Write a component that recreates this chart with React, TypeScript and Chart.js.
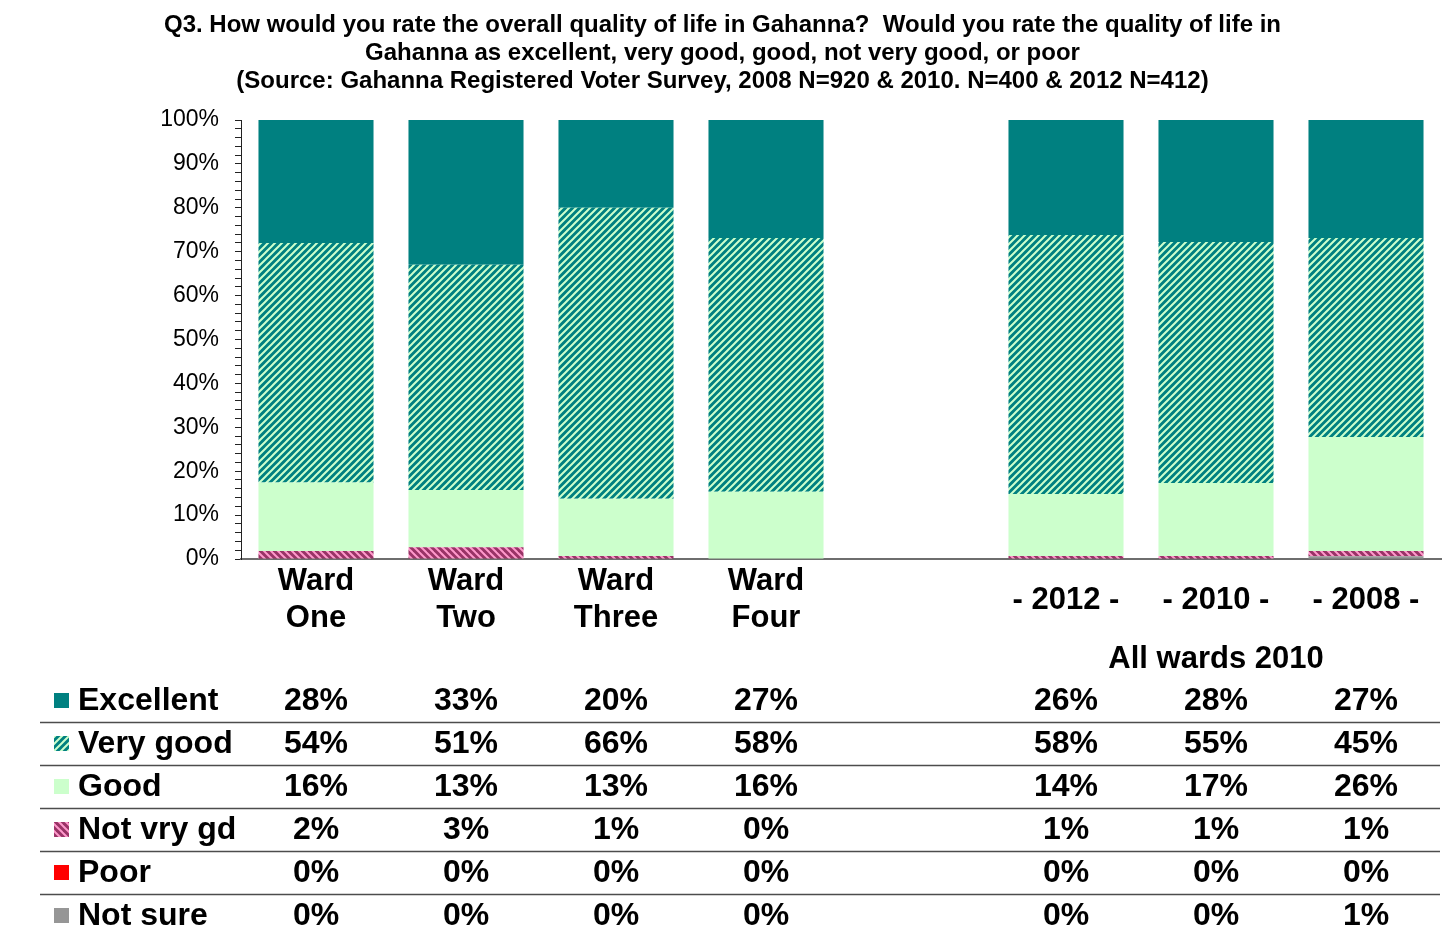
import React, { useEffect, useRef } from "react";
import { Chart, registerables } from "chart.js";
Chart.register(...registerables);

const titleLines = [
  "Q3. How would you rate the overall quality of life in Gahanna?  Would you rate the quality of life in",
  "Gahanna as excellent, very good, good, not very good, or poor",
  "(Source: Gahanna Registered Voter Survey, 2008 N=920 & 2010. N=400 & 2012 N=412)",
];

const categories = ["Ward One", "Ward Two", "Ward Three", "Ward Four", "", "- 2012 -", "- 2010 -", "- 2008 -"];
const groupLabel = "All wards 2010";

// bar heights (percent)
const excellent = [28.0, 33.0, 20.0, 26.9, null, 26.2, 27.8, 26.9];
const veryGood = [54.6, 51.3, 66.3, 57.8, null, 59.0, 54.9, 45.3];
const good = [15.6, 13.0, 13.0, 15.3, null, 14.1, 16.6, 26.0];
const notVeryGood = [1.8, 2.7, 0.7, 0, null, 0.7, 0.7, 1.2];
const poor = [0, 0, 0, 0, null, 0, 0, 0];
const notSure = [0, 0, 0, 0, null, 0, 0, 0.6];

// values printed in the data table
const tblExcellent = [28, 33, 20, 27, null, 26, 28, 27];
const tblVeryGood = [54, 51, 66, 58, null, 58, 55, 45];
const tblGood = [16, 13, 13, 16, null, 14, 17, 26];
const tblNotVeryGood = [2, 3, 1, 0, null, 1, 1, 1];
const tblPoor = [0, 0, 0, 0, null, 0, 0, 0];
const tblNotSure = [0, 0, 0, 0, null, 0, 0, 1];

const seriesNames = ["Excellent", "Very good", "Good", "Not vry gd", "Poor", "Not sure"];

const FONT = "'Liberation Sans', Arial, Helvetica, sans-serif";

function stripePattern(bg: string, fg: string, dir: "/" | "\\", s: number, lw: number) {
  const c = document.createElement("canvas");
  c.width = s;
  c.height = s;
  const g = c.getContext("2d")!;
  g.fillStyle = bg;
  g.fillRect(0, 0, s, s);
  g.strokeStyle = fg;
  g.lineWidth = lw;
  g.lineCap = "square";
  for (let k = -1; k <= 2; k++) {
    g.beginPath();
    if (dir === "/") {
      g.moveTo(-2, k * s + 2);
      g.lineTo(k * s + 2, -2);
    } else {
      g.moveTo(-2, k * s - 2);
      g.lineTo(s + 2, k * s + s + 2);
    }
    g.stroke();
  }
  return g.createPattern(c, "repeat")!;
}

export default function App() {
  const ref = useRef<HTMLCanvasElement | null>(null);

  useEffect(() => {
    document.body.style.margin = "0";
    const canvas = ref.current!;
    const vgPat = stripePattern("#008080", "#CCFFCC", "/", 7, 2);
    const nvgPat = stripePattern("#993366", "#FF99CC", "\\", 7, 2);

    const fills: any[] = ["#008080", vgPat, "#CCFFCC", nvgPat, "#FF0000", "#969696"];
    const barData = [excellent, veryGood, good, notVeryGood, poor, notSure];
    const tblData = [tblExcellent, tblVeryGood, tblGood, tblNotVeryGood, tblPoor, tblNotSure];

    const datasets = seriesNames
      .map((name, i) => ({
        label: name,
        data: barData[i] as any,
        backgroundColor: fills[i],
        borderWidth: 0,
        barPercentage: 0.767,
        categoryPercentage: 1,
      }))
      .reverse();

    const overlay = {
      id: "overlay",
      afterDraw(chart: any) {
        const ctx = chart.ctx as CanvasRenderingContext2D;
        const xs = chart.scales.x;
        ctx.save();
        ctx.fillStyle = "#000";
        ctx.textBaseline = "middle";
        // title
        ctx.font = `bold 24px ${FONT}`;
        ctx.textAlign = "center";
        titleLines.forEach((t, i) => ctx.fillText(t, 722.5, 25 + i * 28));

        // category labels
        ctx.font = `bold 31px ${FONT}`;
        categories.forEach((c, i) => {
          if (!c) return;
          const x = xs.getPixelForValue(i);
          if (c.startsWith("Ward")) {
            const parts = c.split(" ");
            ctx.fillText(parts[0], x, 581);
            ctx.fillText(parts[1], x, 618);
          } else {
            ctx.fillText(c, x, 600);
          }
        });
        ctx.fillText(groupLabel, xs.getPixelForValue(6), 659);

        // table
        ctx.font = `bold 32px ${FONT}`;
        const rowY = [701, 744, 787, 830, 873, 916];
        ctx.strokeStyle = "#4d4d4d";
        ctx.lineWidth = 1.5;
        for (let r = 0; r < 5; r++) {
          const y = rowY[r] + 21.5;
          ctx.beginPath();
          ctx.moveTo(40, y);
          ctx.lineTo(1440, y);
          ctx.stroke();
        }
        seriesNames.forEach((name, r) => {
          const y = rowY[r];
          ctx.fillStyle = fills[r];
          ctx.fillRect(54, y - 8, 15, 15);
          ctx.fillStyle = "#000";
          ctx.textAlign = "left";
          ctx.fillText(name, 78, y);
          ctx.textAlign = "center";
          tblData[r].forEach((v, i) => {
            if (v === null) return;
            ctx.fillText(`${v}%`, xs.getPixelForValue(i), y);
          });
        });
        ctx.restore();
      },
    };

    const chart = new Chart(canvas, {
      type: "bar",
      data: { labels: categories, datasets },
      options: {
        responsive: false,
        animation: false,
        devicePixelRatio: 1,
        layout: { padding: { left: 0, top: 120, right: 4, bottom: 378 } },
        plugins: { legend: { display: false }, tooltip: { enabled: false }, title: { display: false } },
        scales: {
          x: {
            stacked: true,
            ticks: { display: false },
            grid: { display: false, drawTicks: false },
            border: { display: true, color: "#6e6e6e", width: 2 },
            afterFit: (s: any) => {
              s.height = 0;
            },
          },
          y: {
            stacked: true,
            min: 0,
            max: 100,
            ticks: {
              stepSize: 2,
              autoSkip: false,
              padding: 16,
              color: "#000",
              font: { family: FONT, size: 23 },
              callback: (v: any) => (Number(v) % 10 === 0 ? `${v}%` : ""),
            },
            grid: { drawOnChartArea: false, drawTicks: true, tickLength: 6, color: "#222", lineWidth: 1 },
            border: { display: true, color: "#222", width: 1 },
            afterFit: (s: any) => {
              s.width = 241;
            },
          },
        },
      },
      plugins: [overlay],
    });
    return () => chart.destroy();
  }, []);

  return (
    <div style={{ width: 1445, height: 937, background: "#fff" }}>
      <canvas ref={ref} width={1445} height={937} style={{ display: "block" }} />
    </div>
  );
}
